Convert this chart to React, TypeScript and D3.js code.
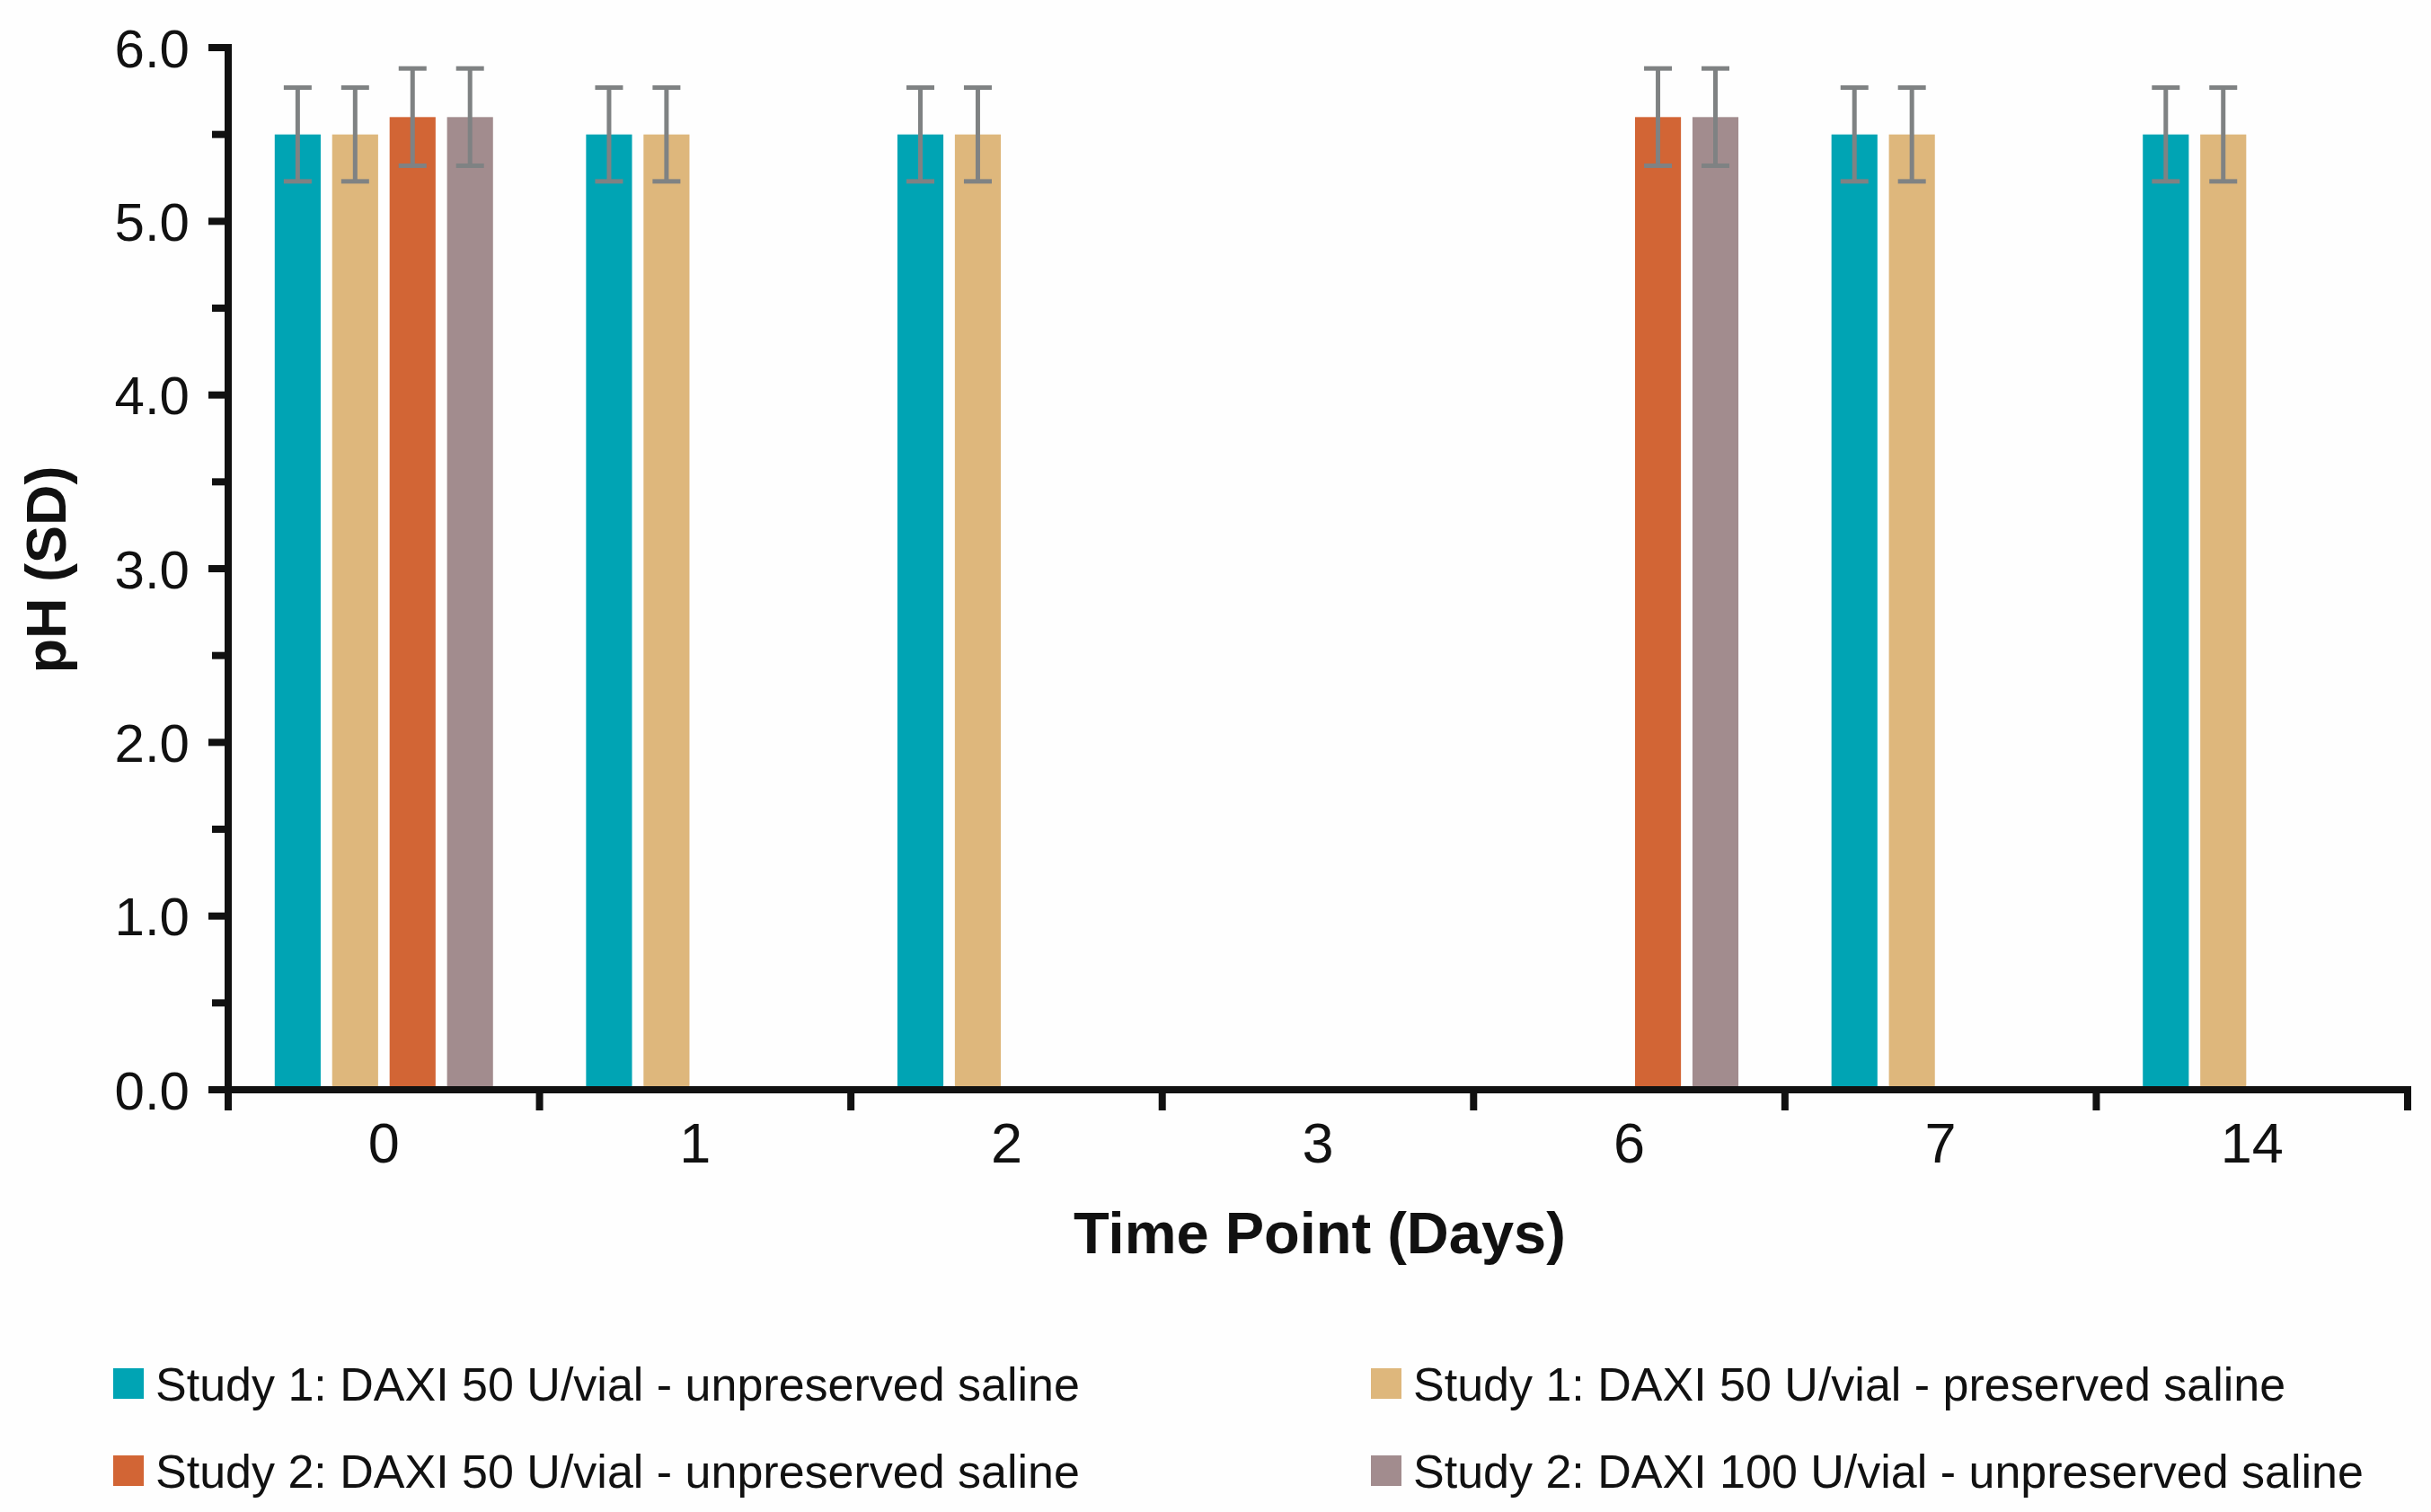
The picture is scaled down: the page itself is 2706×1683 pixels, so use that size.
import * as d3 from "d3";

const days = ["0", "1", "2", "3", "6", "7", "14"];
const seriesNames = [
  "Study 1: DAXI 50 U/vial - unpreserved saline",
  "Study 1: DAXI 50 U/vial - preserved saline",
  "Study 2: DAXI 50 U/vial - unpreserved saline",
  "Study 2: DAXI 100 U/vial - unpreserved saline",
];
const seriesColors = ["#00a4b4", "#deb77c", "#d26535", "#a28c8e"];

// pH mean per day (null = not measured)
const study1Unpreserved = [5.5, 5.5, 5.5, null, null, 5.5, 5.5];
const study1Preserved = [5.5, 5.5, 5.5, null, null, 5.5, 5.5];
const study2Dose50 = [5.6, null, null, null, 5.6, null, null];
const study2Dose100 = [5.6, null, null, null, 5.6, null, null];
const seriesSD = [0.27, 0.27, 0.28, 0.28];

const yTicks = [0, 1, 2, 3, 4, 5, 6];
const yMinorTicks = [0.5, 1.5, 2.5, 3.5, 4.5, 5.5];

const W = 2706;
const H = 1683;
const FONT = "'Liberation Sans', Arial, Helvetica, sans-serif";

export default function App() {
  const values = [study1Unpreserved, study1Preserved, study2Dose50, study2Dose100];

  const x0 = d3.scaleBand<string>().domain(days).range([254, 2680]).padding(0);
  const x1 = d3
    .scaleBand<number>()
    .domain(d3.range(seriesNames.length))
    .range([0, x0.bandwidth()])
    .paddingInner(0.2)
    .paddingOuter(0.81);
  const y = d3.scaleLinear().domain([0, 6]).range([1213, 53]);

  const axisX = x0.range()[0];
  const axisEnd = x0.range()[1];
  const capW = 31;

  const bars: { key: string; x: number; w: number; v: number; sd: number; color: string }[] = [];
  values.forEach((arr, si) => {
    arr.forEach((v, di) => {
      if (v == null) return;
      bars.push({
        key: `${si}-${di}`,
        x: (x0(days[di]) ?? 0) + (x1(si) ?? 0),
        w: x1.bandwidth(),
        v,
        sd: seriesSD[si],
        color: seriesColors[si],
      });
    });
  });

  const boundaries = days.map((d) => x0(d) ?? 0).concat([axisEnd]);

  return (
    <svg
      width={W}
      height={H}
      style={{ position: "absolute", left: 0, top: 0, background: "#fefefe" }}
      fontFamily={FONT}
    >
      {/* bars */}
      {bars.map((b) => (
        <rect key={b.key} x={b.x} y={y(b.v)} width={b.w} height={y(0) - y(b.v)} fill={b.color} />
      ))}

      {/* error bars */}
      {bars.map((b) => {
        const cx = b.x + b.w / 2;
        return (
          <g key={"e" + b.key} stroke="#7f8283" strokeWidth={5}>
            <line x1={cx} x2={cx} y1={y(b.v + b.sd)} y2={y(b.v - b.sd)} />
            <line x1={cx - capW / 2} x2={cx + capW / 2} y1={y(b.v + b.sd)} y2={y(b.v + b.sd)} />
            <line x1={cx - capW / 2} x2={cx + capW / 2} y1={y(b.v - b.sd)} y2={y(b.v - b.sd)} />
          </g>
        );
      })}

      {/* y axis */}
      <g stroke="#111" strokeWidth={8}>
        <line x1={axisX} x2={axisX} y1={y(6) - 4} y2={y(0) + 23} />
        {yTicks.map((t) => (
          <line key={"yt" + t} x1={axisX - 22} x2={axisX} y1={y(t)} y2={y(t)} />
        ))}
        {yMinorTicks.map((t) => (
          <line key={"ym" + t} x1={axisX - 18} x2={axisX} y1={y(t)} y2={y(t)} />
        ))}
      </g>
      {yTicks.map((t) => (
        <text
          key={"yl" + t}
          x={211}
          y={y(t)}
          dy="0.36em"
          textAnchor="end"
          fontSize={60}
          fill="#111"
        >
          {d3.format(".1f")(t)}
        </text>
      ))}
      <text
        transform={`translate(73, ${(y(0) + y(6)) / 2 + 1}) rotate(-90)`}
        textAnchor="middle"
        fontSize={63}
        fontWeight="bold"
        fill="#111"
      >
        pH (SD)
      </text>

      {/* x axis */}
      <g stroke="#111" strokeWidth={8}>
        <line x1={axisX - 22} x2={axisEnd + 4} y1={y(0)} y2={y(0)} />
        {boundaries.map((bx, i) => (
          <line key={"xt" + i} x1={bx} x2={bx} y1={y(0)} y2={y(0) + 23} />
        ))}
      </g>
      {days.map((d) => (
        <text
          key={"xl" + d}
          x={(x0(d) ?? 0) + x0.bandwidth() / 2}
          y={1294}
          textAnchor="middle"
          fontSize={63}
          fill="#111"
        >
          {d}
        </text>
      ))}
      <text x={1469} y={1395} textAnchor="middle" fontSize={65} fontWeight="bold" fill="#111">
        Time Point (Days)
      </text>

      {/* legend */}
      {seriesNames.map((name, i) => {
        const col = i % 2;
        const row = Math.floor(i / 2);
        const lx = col === 0 ? 126 : 1526;
        const ly = row === 0 ? 1540 : 1637;
        return (
          <g key={"lg" + i}>
            <rect x={lx} y={ly - 17} width={34} height={34} fill={seriesColors[i]} />
            <text x={lx + 47} y={ly} dy="0.36em" fontSize={52} fill="#111">
              {name}
            </text>
          </g>
        );
      })}
    </svg>
  );
}
